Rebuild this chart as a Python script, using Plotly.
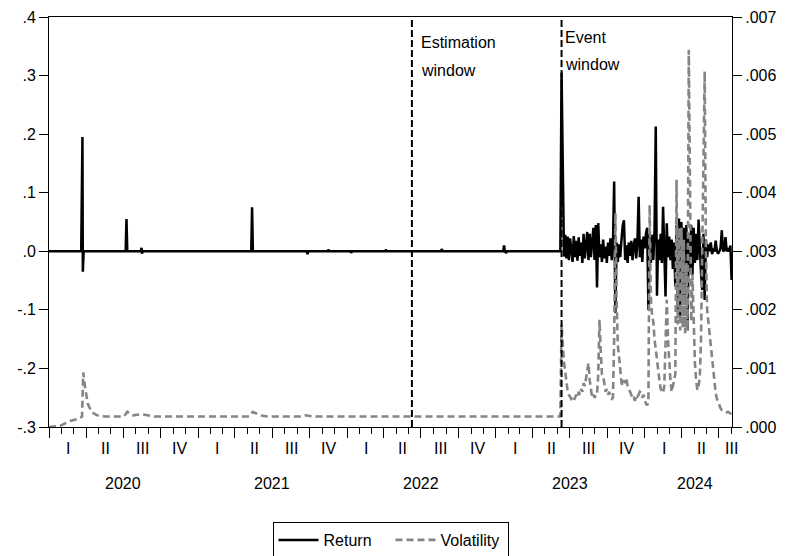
import plotly.graph_objects as go
import pandas as pd

# ---------------- data ----------------
ESTIMATION_START = "2022-06-09"
EVENT_START = "2023-06-11"

# Return, before the event window (sparse: flat at zero with spikes)
ret_pre_dates = ["2020-01-01", "2020-03-20", "2020-03-23", "2020-03-24", "2020-03-26",
                 "2020-07-07", "2020-07-09", "2020-07-11", "2020-08-13", "2020-08-15",
                 "2020-08-16", "2020-08-18", "2021-05-11", "2021-05-13", "2021-05-15",
                 "2021-09-24", "2021-09-26", "2021-09-28", "2021-11-15", "2021-11-16",
                 "2021-11-18", "2022-01-10", "2022-01-11", "2022-01-13", "2022-04-05",
                 "2022-04-06", "2022-04-08", "2022-08-20", "2022-08-21", "2022-08-23",
                 "2023-01-19", "2023-01-21", "2023-01-23", "2023-01-26", "2023-01-28",
                 "2023-06-08"]
ret_pre = [0.0, 0.0, 0.195, -0.035, 0.0,
           0.0, 0.055, 0.0, 0.0, 0.006,
           -0.004, 0.0, 0.0, 0.075, 0.0,
           0.0, -0.005, 0.0, 0.0, 0.003,
           0.0, 0.0, -0.003, 0.0, 0.0,
           0.003, 0.0, 0.0, 0.004, 0.0,
           0.0, 0.010, 0.0, -0.003, 0.0,
           0.0]

# Return in the event window, one reading every 3 days from EVENT_START
ret_event = [
    0.305, 0.079, -0.009, 0.028, -0.012, 0.025, -0.015, 0.022, 0.002, -0.018,
    0.026, -0.010, 0.018, -0.016, 0.024, -0.008, 0.015, -0.020, 0.030, -0.012,
    0.010, 0.033, -0.015, 0.030, -0.010, 0.020, 0.040, -0.015, 0.045, -0.062,
    0.048, -0.010, 0.012, -0.018, 0.020, -0.012, 0.008, -0.020, 0.015, -0.008,
    0.022, -0.015, 0.010, 0.119, -0.105, 0.015, -0.018, 0.012, -0.010, 0.020,
    0.044, 0.053, -0.015, 0.010, -0.020, 0.015, -0.008, 0.018, -0.015, 0.010,
    0.022, -0.012, 0.015, 0.093, -0.010, 0.020, -0.018, 0.025, 0.005, 0.030,
    0.040, -0.100, 0.030, -0.020, 0.028, -0.015, 0.035, 0.213, -0.076, 0.020,
    -0.015, 0.030, -0.020, 0.076, 0.010, -0.077, 0.048, -0.010, 0.025, -0.015,
    0.020, -0.030, 0.015, -0.060, 0.045, -0.100, 0.056, -0.110, 0.050, -0.090,
    0.040, -0.080, 0.045, -0.135, 0.030, -0.035, 0.045, -0.040, 0.040, -0.020,
    0.030, -0.015, 0.054, -0.010, -0.037, -0.066, 0.030, -0.083, 0.020, -0.010,
    0.012, 0.000, 0.015, -0.005, 0.002, 0.000, 0.018, 0.000, -0.004, 0.000,
    0.006, 0.036, 0.000, 0.002, 0.024, 0.000, 0.003, 0.000, 0.010, -0.049]

# Volatility, before the event window
vol_pre_dates = ["2020-01-01", "2020-01-28", "2020-02-21", "2020-03-17", "2020-03-22",
                 "2020-03-25", "2020-03-29", "2020-04-05", "2020-04-15", "2020-04-28",
                 "2020-05-17", "2020-07-03", "2020-07-11", "2020-07-25", "2020-08-15",
                 "2020-09-15", "2021-05-06", "2021-05-15", "2021-06-01", "2021-06-20",
                 "2021-09-12", "2021-09-21", "2021-10-10", "2022-12-31", "2023-01-24",
                 "2023-02-15", "2023-06-08"]
vol_pre = [0.00000, 0.00002, 0.00010, 0.00015, 0.00018,
           0.00093, 0.00070, 0.00040, 0.00025, 0.00020,
           0.00018, 0.00018, 0.00026, 0.00020, 0.00022,
           0.00018, 0.00018, 0.00026, 0.00020, 0.00018,
           0.00018, 0.00020, 0.00018, 0.00018, 0.00019,
           0.00018, 0.00018]

# Volatility in the event window, one reading every 3 days from EVENT_START
vol_event = [
    0.00175, 0.00140, 0.00110, 0.00095, 0.00080, 0.00060, 0.00055, 0.00052, 0.00048, 0.00050,
    0.00045, 0.00050, 0.00055, 0.00050, 0.00060, 0.00055, 0.00065, 0.00060, 0.00075, 0.00070,
    0.00085, 0.00095, 0.00109, 0.00080, 0.00060, 0.00050, 0.00055, 0.00050, 0.00055, 0.00055,
    0.00090, 0.00183, 0.00130, 0.00090, 0.00088, 0.00070, 0.00060, 0.00065, 0.00055, 0.00060,
    0.00050, 0.00048, 0.00050, 0.00150, 0.00365, 0.00220, 0.00140, 0.00120, 0.00100, 0.00075,
    0.00070, 0.00080, 0.00075, 0.00082, 0.00070, 0.00063, 0.00060, 0.00055, 0.00048, 0.00050,
    0.00045, 0.00055, 0.00052, 0.00055, 0.00060, 0.00058, 0.00050, 0.00055, 0.00045, 0.00040,
    0.00037, 0.00045, 0.00379, 0.00220, 0.00190, 0.00180, 0.00150, 0.00130, 0.00110, 0.00100,
    0.00080, 0.00065, 0.00060, 0.00058, 0.00070, 0.00130, 0.00217, 0.00150, 0.00100, 0.00080,
    0.00060, 0.00070, 0.00075, 0.00090, 0.00422, 0.00175, 0.00340, 0.00165, 0.00340, 0.00170,
    0.00320, 0.00160, 0.00280, 0.00165, 0.00644, 0.00320, 0.00180, 0.00260, 0.00160, 0.00110,
    0.00080, 0.00063, 0.00070, 0.00085, 0.00150, 0.00280, 0.00450, 0.00607, 0.00300, 0.00200,
    0.00180, 0.00160, 0.00140, 0.00115, 0.00095, 0.00075, 0.00058, 0.00048, 0.00042, 0.00036,
    0.00032, 0.00029, 0.00027, 0.00026, 0.00026, 0.00025, 0.00026, 0.00024, 0.00023, 0.00023]

left_tick_vals = [-0.3, -0.2, -0.1, 0.0, 0.1, 0.2, 0.3, 0.4]
left_tick_text = ["-.3", "-.2", "-.1", ".0", ".1", ".2", ".3", ".4"]
right_tick_vals = [0.0, 0.001, 0.002, 0.003, 0.004, 0.005, 0.006, 0.007]
right_tick_text = [".000", ".001", ".002", ".003", ".004", ".005", ".006", ".007"]

roman = ["I", "II", "III", "IV"]
year_labels = ["2020", "2021", "2022", "2023", "2024"]
year_label_dates = ["2020-07-01", "2021-07-02", "2022-07-02", "2023-07-02", "2024-05-04"]

# ---------------- figure ----------------
FONT = "Liberation Sans, Arial, sans-serif"
ret_dates = ret_pre_dates + list(pd.date_range(EVENT_START, periods=len(ret_event), freq="3D"))
vol_dates = vol_pre_dates + list(pd.date_range(EVENT_START, periods=len(vol_event), freq="3D"))

fig = go.Figure()
fig.add_trace(go.Scatter(x=ret_dates, y=ret_pre + ret_event, name="Return", mode="lines",
                         line=dict(color="black", width=2.5)))
fig.add_trace(go.Scatter(x=vol_dates, y=vol_pre + vol_event, name="Volatility", mode="lines",
                         yaxis="y2", line=dict(color="#858585", width=2.6, dash="7px,4px")))

quarter_starts = pd.date_range("2020-01-01", "2024-07-01", freq="QS")
month_starts = pd.date_range("2020-01-01", "2024-08-01", freq="MS")

annotations = []
for k, q in enumerate(quarter_starts):
    if q == quarter_starts[-1]:
        xd = pd.Timestamp("2024-07-31")
    else:
        xd = q + pd.Timedelta(days=47)
    annotations.append(dict(x=xd, y=-0.052, xref="x", yref="paper", text=roman[k % 4],
                            showarrow=False, xanchor="center", yanchor="middle",
                            font=dict(size=16, color="black", family=FONT)))
for yl, yd in zip(year_labels, year_label_dates):
    annotations.append(dict(x=yd, y=-0.137, xref="x", yref="paper", text=yl,
                            showarrow=False, xanchor="center", yanchor="middle",
                            font=dict(size=16, color="black", family=FONT)))
for txt, xd, yp, xs in [("Estimation", ESTIMATION_START, 0.937, 7),
                        ("window", ESTIMATION_START, 0.870, 7),
                        ("Event", EVENT_START, 0.951, 1),
                        ("window", EVENT_START, 0.883, 1)]:
    annotations.append(dict(x=xd, y=yp, xref="x", yref="paper", text=txt, xshift=xs,
                            showarrow=False, xanchor="left", yanchor="middle",
                            font=dict(size=16, color="black", family=FONT)))

shapes = []
for d in [ESTIMATION_START, EVENT_START]:
    shapes.append(dict(type="line", x0=d, x1=d, xref="x", yref="paper", y0=0, y1=1,
                       line=dict(color="black", width=2, dash="7px,3px")))

# The page body adds an 8px margin, so the figure is 8px smaller than the window.
fig.update_layout(
    width=777, height=548,
    margin=dict(l=41, r=53, t=9, b=129, autoexpand=False),
    paper_bgcolor="white", plot_bgcolor="white",
    font=dict(family=FONT, size=16, color="black"),
    showlegend=True,
    legend=dict(orientation="h", x=0.5, xanchor="center", xref="paper",
                y=0.062, yanchor="top", yref="container",
                entrywidth=62, entrywidthmode="pixels", itemwidth=40,
                bordercolor="black", borderwidth=1, bgcolor="white",
                font=dict(size=16, color="black", family=FONT)),
    xaxis=dict(type="date", range=["2020-01-01", "2024-08-02"],
               showline=True, linecolor="black", linewidth=1, mirror=True,
               showgrid=False, zeroline=False,
               tickmode="array", tickvals=list(quarter_starts), ticks="outside",
               ticklen=10, tickcolor="black", tickwidth=1, showticklabels=False,
               minor=dict(tickmode="array", tickvals=list(month_starts), ticks="outside",
                          ticklen=6, tickcolor="black", tickwidth=1, showgrid=False)),
    yaxis=dict(range=[-0.3, 0.4], showline=True, linecolor="black", linewidth=1,
               showgrid=False, zeroline=False, tickmode="array",
               tickvals=left_tick_vals, ticktext=left_tick_text,
               ticks="outside", ticklen=9, tickcolor="black", tickwidth=1,
               tickfont=dict(size=16, color="black", family=FONT)),
    yaxis2=dict(range=[0, 0.007], overlaying="y", side="right", showline=True,
                linecolor="black", linewidth=1, showgrid=False, zeroline=False,
                tickmode="array", tickvals=right_tick_vals, ticktext=right_tick_text,
                ticks="outside", ticklen=9, tickcolor="black", tickwidth=1,
                tickfont=dict(size=16, color="black", family=FONT)),
    annotations=annotations,
    shapes=shapes,
)

fig.write_html("out.html")
